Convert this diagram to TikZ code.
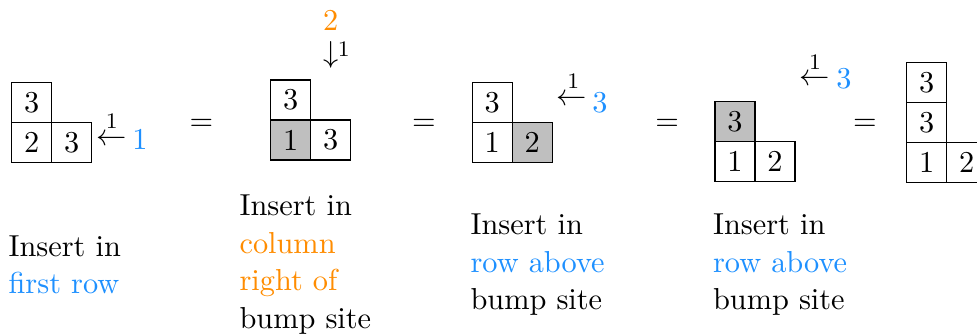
\documentclass[tikz,border=0pt]{standalone}
\definecolor{dblue}{RGB}{30,144,255}
\definecolor{dorange}{RGB}{255,140,0}
\begin{document}
\begin{tikzpicture}[x=0.361pt,y=-0.361pt,
  every node/.style={font=\fontsize{10.95}{13.6}\selectfont, inner sep=0pt},
  cell/.style={draw, minimum size=14.44pt, anchor=center},
  bumped/.style={cell, fill=gray!50},
  glyph/.style={anchor=base},
  sup/.style={anchor=base, font=\fontsize{8}{9.5}\selectfont},
  caption/.style={anchor=west, align=left}]
\useasboundingbox (0,0) rectangle (977,334);
% tableau 1
\node[cell] (a11) at (31.7,102.3) {3};
\node[cell] (a21) at (31.7,142.3) {2};
\node[cell] (a22) at (71.7,142.3) {3};
\node[glyph] (arrA) at (111.35,145.3) {$\leftarrow$};
\node[sup] (supA) at (111.7,128.1) {1};
\node[glyph, text=dblue] (inA) at (140,149.8) {1};
\node[glyph] (eq1) at (201.3,130.4) {$=$};
% tableau 2
\node[glyph, text=dorange] (inB) at (330.7,30.5) {2};
\node[glyph] (arrB) at (330.7,62.4) {$\downarrow$};
\node[sup] (supB) at (343.7,56.1) {1};
\node[cell] (b11) at (290.7,100) {3};
\node[bumped] (b21) at (290.7,140) {1};
\node[cell] (b22) at (330.7,140) {3};
\node[glyph] (eq2) at (424,130.4) {$=$};
% tableau 3
\node[cell] (c11) at (492.3,102.3) {3};
\node[cell] (c21) at (492.3,142.3) {1};
\node[bumped] (c22) at (532.3,142.3) {2};
\node[glyph] (arrC) at (571.85,105.3) {$\leftarrow$};
\node[sup] (supC) at (573.3,88.8) {1};
\node[glyph, text=dblue] (inC) at (600,112.3) {3};
\node[glyph] (eq3) at (667.2,130.4) {$=$};
% tableau 4
\node[bumped] (d11) at (735,121.7) {3};
\node[cell] (d21) at (735,161.7) {1};
\node[cell] (d22) at (775,161.7) {2};
\node[glyph] (arrD) at (815,85.9) {$\leftarrow$};
\node[sup] (supD) at (815,69.8) {1};
\node[glyph, text=dblue] (inD) at (844,88.8) {3};
\node[glyph] (eq4) at (865,130.9) {$=$};
% tableau 5
\node[cell] (e11) at (926.7,82.3) {3};
\node[cell] (e21) at (926.7,122.3) {3};
\node[cell] (e31) at (926.7,162.3) {1};
\node[cell] (e32) at (966.7,162.3) {2};
% captions
\node[caption] (capA) at (8,264.7) {Insert in\\\textcolor{dblue}{first row}};
\node[caption] (capB) at (239,264.7) {Insert in\\\textcolor{dorange}{column}\\\textcolor{dorange}{right of}\\bump site};
\node[caption] (capC) at (470,264.7) {Insert in\\\textcolor{dblue}{row above}\\bump site};
\node[caption] (capD) at (712.5,264.7) {Insert in\\\textcolor{dblue}{row above}\\bump site};
\end{tikzpicture}
\end{document}
